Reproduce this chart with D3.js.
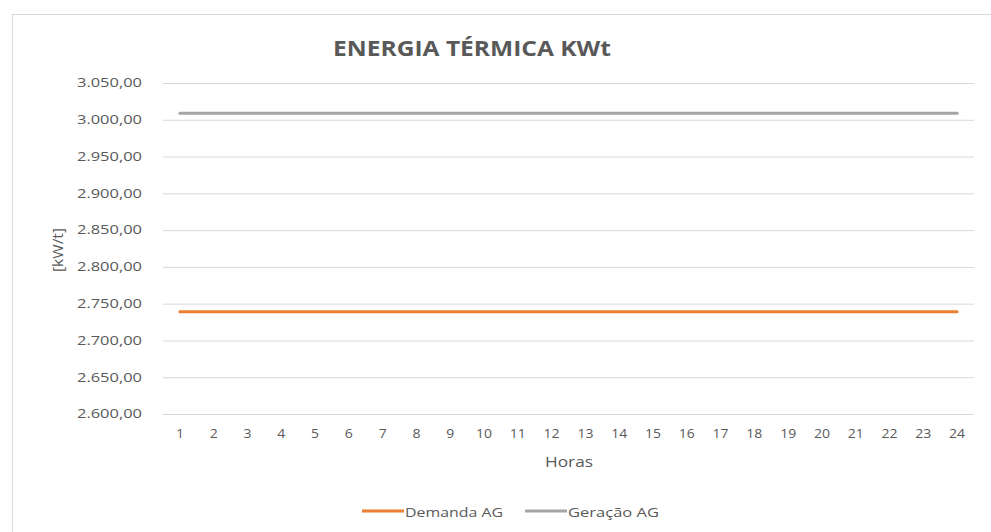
<!DOCTYPE html>
<html>
<head>
<meta charset="utf-8">
<script src="https://cdn.jsdelivr.net/npm/d3@7"></script>
<style>
  body { margin: 0; background: #fff; }
  .chart text { font-family: "Open Sans", sans-serif; fill: #595959; }
</style>
</head>
<body>
<div class="chart"></div>
<script>
// data
var horas = d3.range(1, 25).map(String);
var demandaAG = [2739, 2739, 2739, 2739, 2739, 2739, 2739, 2739, 2739, 2739, 2739, 2739,
                 2739, 2739, 2739, 2739, 2739, 2739, 2739, 2739, 2739, 2739, 2739, 2739];
var geracaoAG = [3009, 3009, 3009, 3009, 3009, 3009, 3009, 3009, 3009, 3009, 3009, 3009,
                 3009, 3009, 3009, 3009, 3009, 3009, 3009, 3009, 3009, 3009, 3009, 3009];
var yTicks = [2600, 2650, 2700, 2750, 2800, 2850, 2900, 2950, 3000, 3050];
var seriesNames = ["Demanda AG", "Geração AG"];
var colors = ["#ED7D31", "#A5A5A5"];

var svgWidth = 991;
var svgHeight = 532;

var margin = { top: 83, right: 17, bottom: 118, left: 163 };
var width = svgWidth - margin.left - margin.right;
var height = svgHeight - margin.top - margin.bottom;

// the source picture is stretched sideways, so text gets a fixed length
function stretch(sel, len) {
    sel.attr("textLength", len).attr("lengthAdjust", "spacingAndGlyphs");
}

var svg = d3.select(".chart")
    .append("svg")
    .attr("width", svgWidth)
    .attr("height", svgHeight);

// outer chart frame
svg.append("rect")
    .attr("x", 12.5)
    .attr("y", 14.5)
    .attr("width", 990)
    .attr("height", 540)
    .attr("fill", "none")
    .attr("stroke", "#D9D9D9");

var chartGroup = svg.append("g")
    .attr("transform", `translate(${margin.left}, ${margin.top})`);

var x = d3.scaleBand()
    .domain(horas)
    .range([0, width]);

var y = d3.scaleLinear()
    .domain([2600, 3050])
    .range([height, 0]);

// gridlines
var grid = chartGroup.append("g")
    .call(d3.axisLeft(y).tickValues(yTicks).tickSize(-width).tickFormat(""));
grid.select(".domain").remove();
grid.selectAll("line").attr("stroke", "#D9D9D9");

// y axis labels
var fmt = d3.formatLocale({ decimal: ",", thousands: ".", grouping: [3], currency: ["R$", ""] }).format(",.2f");
var yAxis = chartGroup.append("g")
    .call(d3.axisLeft(y).tickValues(yTicks).tickSize(0).tickPadding(21).tickFormat(fmt));
yAxis.select(".domain").remove();
yAxis.selectAll("text")
    .style("font-size", "12px")
    .call(stretch, 65);

// x axis labels
var xAxis = chartGroup.append("g")
    .attr("transform", `translate(0, ${height})`)
    .call(d3.axisBottom(x).tickSize(0).tickPadding(15));
xAxis.select(".domain").remove();
xAxis.selectAll("text")
    .style("font-size", "12.5px")
    .each(function(d) {
        d3.select(this).call(stretch, d.length > 1 ? 16 : 8);
    });

// lines
var line = d3.line()
    .x(function(d, i) { return x(horas[i]) + x.bandwidth() / 2; })
    .y(function(d) { return y(d); });

[demandaAG, geracaoAG].forEach(function(s, i) {
    chartGroup.append("path")
        .datum(s)
        .attr("fill", "none")
        .attr("stroke", colors[i])
        .attr("stroke-width", 3)
        .attr("stroke-linecap", "round")
        .attr("d", line);
});

// title
svg.append("text")
    .attr("x", 472)
    .attr("y", 56)
    .attr("text-anchor", "middle")
    .style("font-size", "21px")
    .style("font-weight", "bold")
    .text("ENERGIA TÉRMICA KWt")
    .call(stretch, 278);

// axis titles
svg.append("text")
    .attr("x", 569)
    .attr("y", 467)
    .attr("text-anchor", "middle")
    .style("font-size", "15px")
    .text("Horas")
    .call(stretch, 48);

svg.append("text")
    .attr("transform", "translate(63, 250) rotate(-90)")
    .attr("text-anchor", "middle")
    .style("font-size", "15px")
    .text("[kW/t]")
    .call(stretch, 44);

// legend
var legendX = [362, 525];
var legendLen = [98, 91];
seriesNames.forEach(function(name, i) {
    var g = svg.append("g").attr("transform", `translate(${legendX[i]}, 511)`);
    g.append("line")
        .attr("x1", 0).attr("x2", 42)
        .attr("stroke", colors[i])
        .attr("stroke-width", 3);
    g.append("text")
        .attr("x", 43)
        .attr("y", 6)
        .style("font-size", "13px")
        .text(name)
        .call(stretch, legendLen[i]);
});
</script>
</body>
</html>
